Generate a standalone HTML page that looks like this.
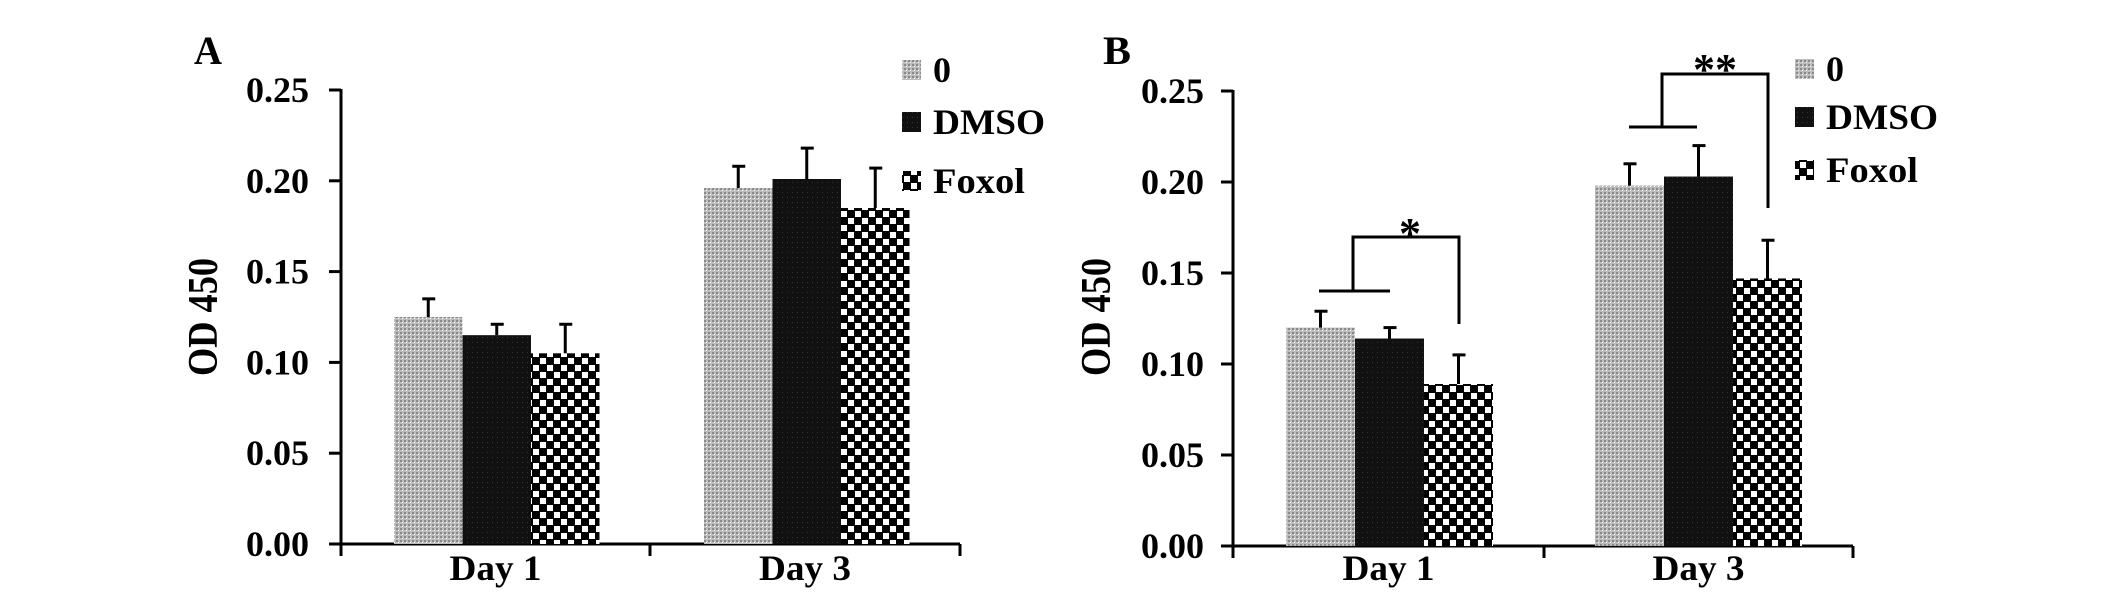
<!DOCTYPE html>
<html><head><meta charset="utf-8"><style>
html,body{margin:0;padding:0;background:#fff;}
svg{display:block;}
text{font-family:"Liberation Serif","Times New Roman",serif;font-weight:bold;fill:#000;}
</style></head><body>
<svg id="chart" width="2126" height="594" viewBox="0 0 2126 594" xmlns="http://www.w3.org/2000/svg">
<defs>
<pattern id="pGrey" width="4" height="4" patternUnits="userSpaceOnUse"><rect width="4" height="4" fill="#bdbdbd"/><rect width="2" height="2" fill="#8a8a8a"/><rect x="2" y="2" width="1" height="1" fill="#fff"/></pattern>
<pattern id="pBlack" width="5" height="5" patternUnits="userSpaceOnUse"><rect width="5" height="5" fill="#111"/><rect x="2" y="2" width="1" height="1" fill="#333"/></pattern>
<pattern id="pCheck" width="14" height="14" patternUnits="userSpaceOnUse"><rect width="14" height="14" fill="#000"/><rect x="1" y="1" width="6" height="6" fill="#fff"/><rect x="8" y="8" width="6" height="6" fill="#fff"/></pattern>
</defs>
<g id="root"></g>
</svg>
<script>
const categories = ["Day 1", "Day 3"];
const seriesNames = ["0", "DMSO", "Foxol"];
const valuesA = [[0.125, 0.115, 0.105], [0.196, 0.201, 0.185]];
const errorsA = [[0.010, 0.006, 0.016], [0.012, 0.017, 0.022]];
const valuesB = [[0.120, 0.114, 0.089], [0.198, 0.203, 0.147]];
const errorsB = [[0.009, 0.006, 0.016], [0.012, 0.017, 0.021]];
const yTicks = [0.00, 0.05, 0.10, 0.15, 0.20, 0.25];
const yTickLabels = ["0.00", "0.05", "0.10", "0.15", "0.20", "0.25"];

const NS = "http://www.w3.org/2000/svg";
const root = document.getElementById('root');
const fills = ["url(#pGrey)", "url(#pBlack)", "url(#pCheck)"];
function mk(tag, attrs, parent){const e=document.createElementNS(NS,tag);for(const k in attrs)e.setAttribute(k,attrs[k]);(parent||root).appendChild(e);return e;}

function panel(cfg){
  const g = mk('g', {});
  
  
  const y = v => cfg.y0 - (v / 0.25) * (cfg.y0 - cfg.y25);
  const ya = mk('line', {x1:cfg.ax, y1:y(0.25)-1, x2:cfg.ax, y2:cfg.y0+1, stroke:'#000','stroke-width':3}, g);
  
  
  const xa = mk('line', {x1:cfg.ax, y1:cfg.y0, x2:cfg.xEnd, y2:cfg.y0, stroke:'#000','stroke-width':3}, g);
  
  
  yTicks.forEach((t, i) => {
    mk('line', {x1:cfg.ax-12, y1:y(t), x2:cfg.ax, y2:y(t), stroke:'#000','stroke-width':3}, g);
    const tl = mk('text', {x:cfg.labR, y:y(t)+12, 'text-anchor':'end','font-size':36, textLength:63, lengthAdjust:'spacingAndGlyphs'}, g);
    tl.textContent = yTickLabels[i];
    
    
  });
  [cfg.ax, cfg.mid, cfg.xEnd].forEach(x => mk('line', {x1:x, y1:cfg.y0, x2:x, y2:cfg.y0+12, stroke:'#000','stroke-width':3}, g));
  const bw = cfg.bw;
  categories.forEach((c, ci) => {
    const cx = (ci === 0) ? (cfg.ax + cfg.mid)/2 : (cfg.mid + cfg.xEnd)/2;
    const cl = mk('text', {x:cx+cfg.catDx, y:580, 'text-anchor':'middle','font-size':36, textLength:92, lengthAdjust:'spacingAndGlyphs'}, g);
    cl.textContent = c;
    
    
    seriesNames.forEach((s, si) => {
      const x0 = cfg.barStart[ci] + si * bw;
      const v = cfg.values[ci][si], e = cfg.errors[ci][si];
      const b = mk('rect', {x:x0, y:y(v), width:bw, height:cfg.y0 - y(v), fill:fills[si]}, g);
      
      
      const xm = x0 + bw/2;
      const el = mk('line', {x1:xm, y1:y(v), x2:xm, y2:y(v+e), stroke:'#000','stroke-width':3}, g);
      
      
      mk('line', {x1:xm-6, y1:y(v+e), x2:xm+7, y2:y(v+e), stroke:'#000','stroke-width':3}, g);
    });
  });
  const L = mk('text', {x:cfg.letterX, y:64, 'font-size':40, textLength:28, lengthAdjust:'spacingAndGlyphs'}, g);
  L.textContent = cfg.letter;
  
  
  const yt = mk('text', {x:0, y:0, 'text-anchor':'middle','font-size':42, textLength:118, lengthAdjust:'spacingAndGlyphs', transform:`translate(${cfg.titleX},317) rotate(-90)`}, g);
  yt.textContent = 'OD 450';
  
  
  const lw = [18, 112, 92];
  seriesNames.forEach((s, si) => {
    const cy = cfg.legY[si];
    const sw = mk('rect', {x:cfg.legX, y:cy-10, width:19, height:20, fill:fills[si]}, g);
    
    
    const lt = mk('text', {x:cfg.legX+31, y:cy+12, 'font-size':36, textLength:lw[si], lengthAdjust:'spacingAndGlyphs'}, g);
    lt.textContent = s;
    
    
  });
  return {g, y};
}

panel({letter:'A', letterX:194, ax:341, y0:544, y25:90, xEnd:960, mid:650, labR:309, titleX:217,
  barStart:[394, 704], bw:68.5, values:valuesA, errors:errorsA, catDx:0,
  legX:902, legY:[70, 122, 181]});
const pb = panel({letter:'B', letterX:1103, ax:1233, y0:546, y25:91, xEnd:1853, mid:1544, labR:1204, titleX:1110,
  barStart:[1286, 1595], bw:69, values:valuesB, errors:errorsB, catDx:0,
  legX:1795, legY:[69, 117, 170]});

function bracket(pts, star, sx, sy, name){
  const p = mk('polyline', {points:pts, fill:'none', stroke:'#000','stroke-width':3}, pb.g);
  
  
  const t = mk('text', {x:sx, y:sy, 'text-anchor':'middle','font-size':44}, pb.g);
  t.textContent = star;
  
  
}
mk('line', {x1:1319, y1:291, x2:1390, y2:291, stroke:'#000','stroke-width':3}, pb.g);
bracket('1353,291 1353,237 1459,237 1459,324', '*', 1410, 248, 'significance-day1');
mk('line', {x1:1629, y1:127, x2:1697, y2:127, stroke:'#000','stroke-width':3}, pb.g);
bracket('1662,127 1662,74 1768,74 1768,208', '**', 1715, 84, 'significance-day3');
</script>
</body></html>
